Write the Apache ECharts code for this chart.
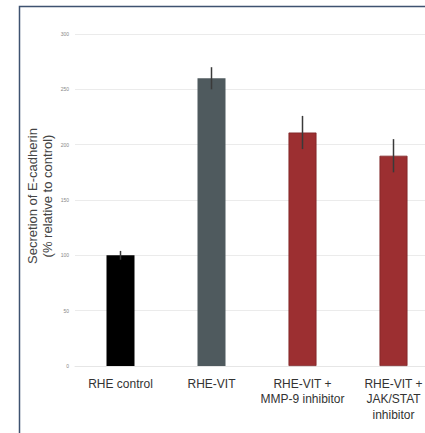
<!DOCTYPE html>
<html>
<head>
<meta charset="utf-8">
<script src="https://cdn.jsdelivr.net/npm/echarts@6/dist/echarts.min.js"></script>
<style>
html,body{margin:0;padding:0;background:#fff;}
#c{width:425px;height:433px;}
</style>
</head>
<body>
<div id="c"></div>
<script>
const categories = ['RHE control', 'RHE-VIT', 'RHE-VIT +\nMMP-9 inhibitor', 'RHE-VIT +\nJAK/STAT\ninhibitor'];
const values = [100, 260, 211, 190];
const errors = [4, 10, 15, 15];
const barColors = ['#000000', '#4f5a5e', '#9c2f31'];
const yTicks = [0, 50, 100, 150, 200, 250, 300];
const yTitle = 'Secretion of E-cadherin\n(% relative to control)';

const chart = echarts.init(document.getElementById('c'), null, {renderer: 'svg'});
const colorFor = i => i === 0 ? barColors[0] : (i === 1 ? barColors[1] : barColors[2]);

chart.setOption({
  animation: false,
  graphic: [{
    type: 'rect',
    shape: {x: 19.5, y: 6.5, width: 600, height: 600},
    style: {fill: 'none', stroke: '#3e5270', lineWidth: 1.5},
    z: 100
  }, {
    type: 'text',
    x: 39.5, y: 196,
    rotation: Math.PI / 2,
    style: {
      text: yTitle, fill: '#444', fontSize: 13, lineHeight: 15,
      fontFamily: 'Liberation Sans, Arial, sans-serif',
      align: 'center', verticalAlign: 'middle'
    }
  }],
  grid: {left: 75, top: 34, width: 364, height: 332, outerBoundsMode: 'none', containLabel: false},
  xAxis: {
    type: 'category',
    data: categories,
    axisLine: {show: true, lineStyle: {color: '#e6e6e6', width: 1}},
    axisTick: {show: false},
    axisLabel: {
      color: '#333', fontSize: 12, fontFamily: 'Liberation Sans, Arial, sans-serif',
      margin: 10, lineHeight: 15.5, interval: 0
    }
  },
  yAxis: {
    type: 'value',
    min: yTicks[0], max: yTicks[yTicks.length - 1], interval: 50,
    axisLine: {show: false},
    axisTick: {show: false},
    axisLabel: {color: '#888', fontSize: 5, margin: 6, fontFamily: 'Liberation Sans, Arial, sans-serif'},
    splitLine: {lineStyle: {color: '#ebebeb', width: 1}}
  },
  series: [{
    type: 'bar',
    barWidth: 28,
    data: values.map((v, i) => ({
      value: v,
      itemStyle: {color: colorFor(i), borderColor: i >= 2 ? '#7e2426' : colorFor(i), borderWidth: i >= 2 ? 0.8 : 0}
    }))
  }, {
    type: 'custom',
    data: values.map((v, i) => [i, v - errors[i], v + errors[i]]),
    renderItem: function (params, api) {
      const lo = api.coord([api.value(0), api.value(1)]);
      const hi = api.coord([api.value(0), api.value(2)]);
      return {
        type: 'line',
        shape: {x1: hi[0], y1: hi[1], x2: lo[0], y2: lo[1]},
        style: {stroke: '#3a3a3a', lineWidth: 1.5}
      };
    },
    z: 10
  }]
});
</script>
</body>
</html>
